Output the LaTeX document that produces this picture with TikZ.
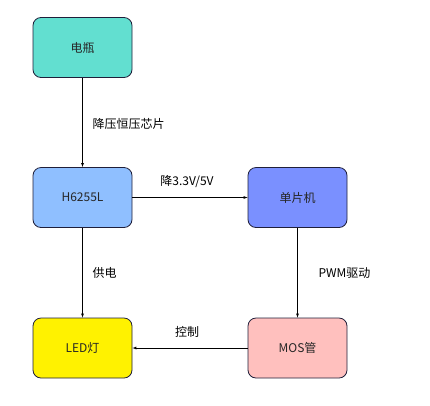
\documentclass[tikz,border=0pt]{standalone}
\usepackage{fontspec}
\setmainfont{Noto Sans CJK SC}
\definecolor{tealbox}{HTML}{62DFD0}
\definecolor{bluebox}{HTML}{8FBFFF}
\definecolor{violetbox}{HTML}{7A90FF}
\definecolor{pinkbox}{HTML}{FFC0BE}
\definecolor{edgecol}{HTML}{1F1F3A}
\begin{document}
\begin{tikzpicture}[x=1pt,y=-1pt,font=\fontsize{12}{14}\selectfont,
    box/.style={draw=edgecol,line width=0.8pt,rounded corners=8pt,minimum width=99pt,minimum height=60pt,inner sep=0pt,text=black!85}]
        \useasboundingbox (0,0) rectangle (430,405);

        \node[box,fill=tealbox] (battery) at (82.5,47.5){电瓶};
        \node[box,fill=bluebox] (chip) at (82.5,197.5){H6255L};
        \node[box,fill=violetbox] (mcu) at (297.5,197.5){单片机};
        \node[box,fill=yellow] (led) at (82.5,348){LED灯};
        \node[box,fill=pinkbox] (mos) at (297.5,348){MOS管};

        \draw[-latex] (battery) -- (chip);
        \draw[-latex] (chip) -- (mcu);
        \draw[-latex] (chip) -- (led);
        \draw[-latex] (mcu) -- (mos);
        \draw[-latex] (mos) -- (led);

        \node[right] (lbuck) at (89,124){降压恒压芯片};
        \node (lvolt) at (187,182){降3.3V/5V};
        \node[right] (lpower) at (89,273){供电};
        \node[right] (lpwm) at (315,273){PWM驱动};
        \node (lctrl) at (187,332){控制};
    \end{tikzpicture}
\end{document}
